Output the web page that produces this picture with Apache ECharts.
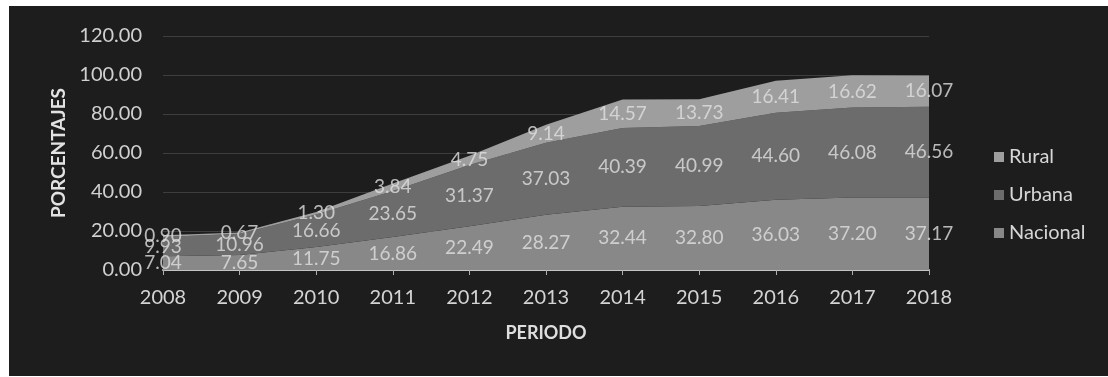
<!DOCTYPE html>
<html>
<head>
<meta charset="utf-8">
<script src="https://cdn.jsdelivr.net/npm/echarts@6/dist/echarts.min.js"></script>
<style>
  html, body { margin: 0; padding: 0; background: #ffffff; width: 1108px; height: 377px; overflow: hidden; }
  #chart { position: absolute; left: 9px; top: 6px; width: 1099px; height: 370px; background: #1d1d1d; }
</style>
</head>
<body>
<div id="chart"></div>
<script>
// Periods on the x axis
const years = ['2008', '2009', '2010', '2011', '2012', '2013', '2014', '2015', '2016', '2017', '2018'];
// Percentages per group (stacked bottom to top: Nacional, Urbana, Rural)
const nacional = [7.04, 7.65, 11.75, 16.86, 22.49, 28.27, 32.44, 32.80, 36.03, 37.20, 37.17];
const urbana   = [9.93, 10.96, 16.66, 23.65, 31.37, 37.03, 40.39, 40.99, 44.60, 46.08, 46.56];
const rural    = [0.90, 0.67, 1.30, 3.84, 4.75, 9.14, 14.57, 13.73, 16.41, 16.62, 16.07];
// Y axis range and step
const yMin = 0, yMax = 120, yStep = 20;

const FONT = 'Lato';
const stackOrder = [
  { name: 'Nacional', data: nacional, color: '#888888' },
  { name: 'Urbana',   data: urbana,   color: '#6c6c6c' },
  { name: 'Rural',    data: rural,    color: '#9e9e9e' }
];

// Area layers
const areaSeries = stackOrder.map(s => ({
  name: s.name,
  type: 'line',
  stack: 'total',
  data: s.data,
  symbol: 'none',
  lineStyle: { width: 0 },
  areaStyle: { color: s.color, opacity: 1 },
  itemStyle: { color: s.color },
  z: 2
}));

// Value labels placed at the middle of each band
const base = years.map(() => 0);
const labelSeries = stackOrder.map(s => {
  const pts = s.data.map((v, i) => {
    const mid = base[i] + v / 2;
    base[i] += v;
    return { value: [i, mid], raw: v };
  });
  return {
    type: 'scatter',
    data: pts,
    symbolSize: 0,
    silent: true,
    z: 5,
    label: {
      show: true,
      position: 'inside',
      formatter: p => p.data.raw.toFixed(2),
      color: '#e0e0e0',
      fontFamily: FONT,
      fontSize: 19
    }
  };
});

const chart = echarts.init(document.getElementById('chart'), null, { renderer: 'canvas' });
chart.setOption({
  animation: false,
  backgroundColor: '#1d1d1d',
  grid: { left: 154, right: 179, top: 30, bottom: 106 },
  legend: {
    data: ['Rural', 'Urbana', 'Nacional'],
    orient: 'vertical',
    left: 980,
    top: 136,
    itemWidth: 10,
    itemHeight: 10,
    itemGap: 18,
    icon: 'rect',
    textStyle: { color: '#d6d6d6', fontFamily: FONT, fontSize: 20 }
  },
  xAxis: {
    type: 'category',
    data: years,
    boundaryGap: false,
    name: 'PERIODO',
    nameLocation: 'middle',
    nameGap: 54,
    nameTextStyle: { color: '#dedede', fontFamily: FONT, fontSize: 18, fontWeight: 'bold' },
    axisLine: { show: true, lineStyle: { color: '#c4c4c4', width: 2 } },
    axisTick: { show: true, length: 5, lineStyle: { color: '#b0b0b0' } },
    axisLabel: { color: '#d4d4d4', fontFamily: FONT, fontSize: 20, margin: 18 },
    splitLine: { show: false }
  },
  yAxis: {
    type: 'value',
    min: yMin,
    max: yMax,
    interval: yStep,
    name: 'PORCENTAJES',
    nameLocation: 'middle',
    nameRotate: 90,
    nameGap: 90,
    nameTextStyle: { color: '#e2e2e2', fontFamily: FONT, fontSize: 19, fontWeight: 'bold' },
    axisLine: { show: false },
    axisTick: { show: false },
    axisLabel: { color: '#d0d0d0', fontFamily: FONT, fontSize: 20, margin: 21, formatter: v => v.toFixed(2) },
    splitLine: { show: true, lineStyle: { color: '#3e3e3e', width: 1 } }
  },
  series: areaSeries.concat(labelSeries)
});
</script>
</body>
</html>
